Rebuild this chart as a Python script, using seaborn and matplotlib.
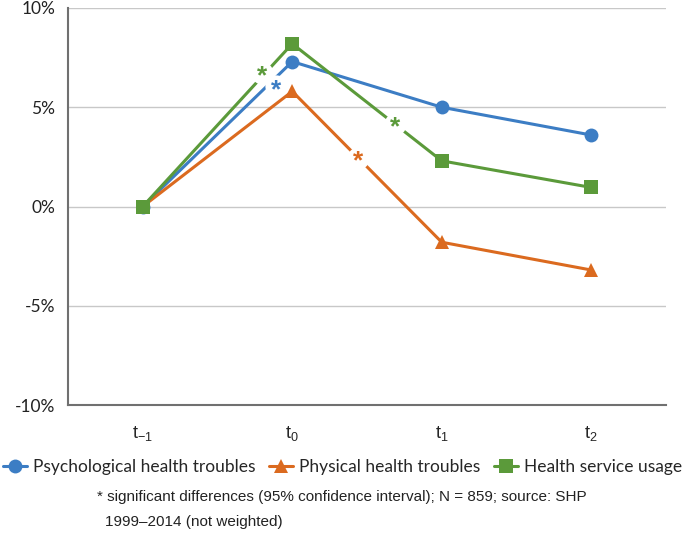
import matplotlib
matplotlib.use("Agg")
import matplotlib.pyplot as plt
import seaborn as sns
import pandas as pd
from matplotlib.ticker import FixedLocator, FuncFormatter

periods = ["t-1", "t0", "t1", "t2"]
tick_labels = [r"$\mathregular{t_{-1}}$", r"$\mathregular{t_{0}}$", r"$\mathregular{t_{1}}$", r"$\mathregular{t_{2}}$"]
series_names = ["Psychological health troubles", "Physical health troubles", "Health service usage"]
psych = [0.0, 7.3, 5.0, 3.6]
physical = [0.0, 5.8, -1.8, -3.2]
service = [0.0, 8.2, 2.3, 0.96]
colors = ["#3C7DC4", "#DB6A1F", "#5B9A3A"]
markers = ["o", "^", "s"]

# significance asterisks: series index, x position between periods, y value
stars_x = [0.8, 0.89, 1.69, 1.44]
stars_y = [6.75, 6.05, 4.15, 2.45]
stars_series = [2, 0, 2, 1]

rows = []
for name, vals in zip(series_names, [psych, physical, service]):
    for i, v in enumerate(vals):
        rows.append({"period": i, "value": v, "series": name})
df = pd.DataFrame(rows)

sns.set_style("white")
plt.rcParams["font.family"] = ["Lato", "DejaVu Sans"]

fig = plt.figure(figsize=(6.85, 5.35), dpi=100)
ax = fig.add_axes([68 / 685, 1 - 405 / 535, (666 - 68) / 685, (405 - 8) / 535])

sns.lineplot(data=df, x="period", y="value", hue="series", style="series",
             palette=colors, markers=markers, dashes=False, linewidth=2.2,
             markersize=10, markeredgewidth=0, ax=ax, legend=True, zorder=3)

# white gaps behind the asterisks
ax.plot(stars_x, stars_y, linestyle="none", marker="o", markersize=16,
        color="white", markeredgewidth=0, zorder=4)
for xs, ys, si in zip(stars_x, stars_y, stars_series):
    ax.annotate("*", (xs, ys), xytext=(0, -7.5), textcoords="offset points",
                color=colors[si], fontsize=19, fontweight="bold",
                ha="center", va="baseline", zorder=5, family="Liberation Sans")

ax.set_xlim(-0.5, 3.5)
ax.set_ylim(-10, 10)
ax.yaxis.set_major_locator(FixedLocator([-10, -5, 0, 5, 10]))
ax.yaxis.set_major_formatter(FuncFormatter(lambda v, p: f"{v:.0f}%"))
ax.grid(axis="y", color="#C8C8C8", linewidth=1)
ax.set_axisbelow(True)

ax.set_xticks(range(4))
ax.set_xticklabels(tick_labels, family="Liberation Sans", fontsize=13)
ax.set_xticks([0.5, 1.5, 2.5, 3.5], minor=True)
ax.tick_params(axis="x", which="major", length=0, pad=14)
ax.tick_params(axis="x", which="minor", length=5, width=1, color="#707070", direction="out")
ax.tick_params(axis="y", length=5, width=1, color="#707070", direction="out", labelsize=12.5, pad=4)
for lab in ax.get_yticklabels():
    lab.set_color("#222222")

ax.set_xlabel("")
ax.set_ylabel("")
for s in ["top", "right"]:
    ax.spines[s].set_visible(False)
for s in ["left", "bottom"]:
    ax.spines[s].set_color("#707070")
    ax.spines[s].set_linewidth(1.5)

handles, labels = ax.get_legend_handles_labels()
ax.legend_.remove()
fig.legend(handles, labels, loc="center", bbox_to_anchor=(0.5, 1 - 467 / 535), ncol=3,
           frameon=False, fontsize=12.5, handlelength=1.4, handletextpad=0.35,
           columnspacing=0.75, borderpad=0, borderaxespad=0)

fig.text(97 / 685, 1 - 497 / 535, "* significant differences (95% confidence interval); N = 859; source: SHP",
         family="Liberation Sans", fontsize=11, va="center", ha="left", color="#222222")
fig.text(105 / 685, 1 - 522 / 535, "1999\u20132014 (not weighted)",
         family="Liberation Sans", fontsize=11, va="center", ha="left", color="#222222")

fig.savefig("out.png", dpi=100)
